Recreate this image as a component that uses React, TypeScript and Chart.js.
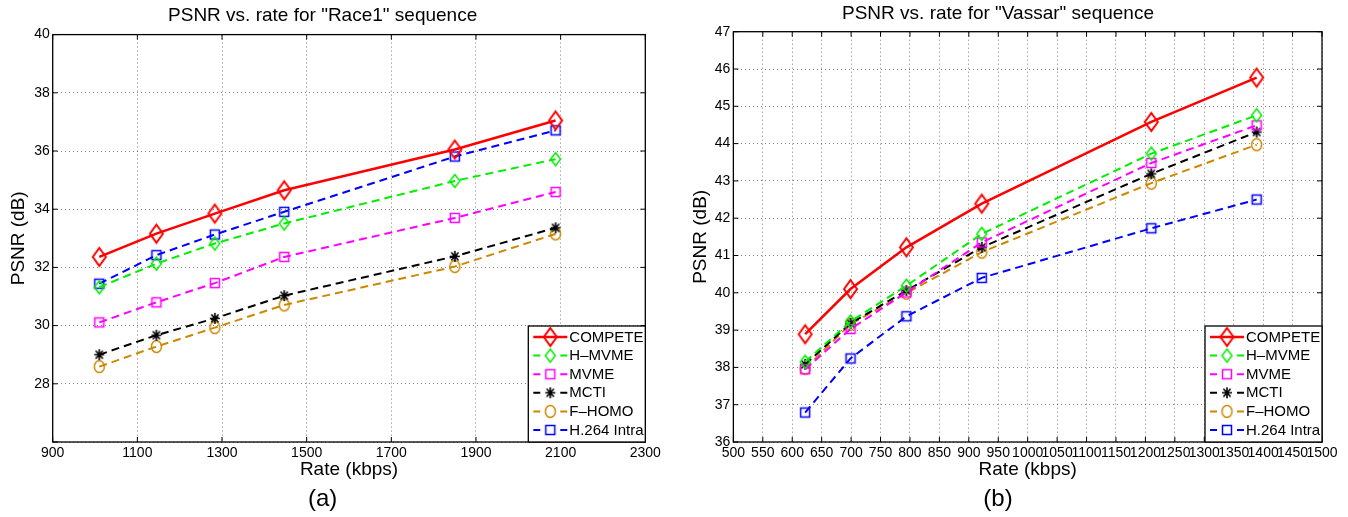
import React, { useEffect, useRef } from "react";
import { Chart, registerables } from "chart.js";

Chart.register(...registerables);
Chart.defaults.font.family = "'Liberation Sans', Arial, Helvetica, sans-serif";

// ---------- Data ----------
const SERIES_NAMES = ["COMPETE", "H\u2013MVME", "MVME", "MCTI", "F\u2013HOMO", "H.264 Intra"];

const RACE1_RATES = [1010, 1145, 1283, 1447, 1850, 2088];
const RACE1_COMPETE = [32.36, 33.16, 33.85, 34.65, 36.05, 37.05];
const RACE1_HMVME = [31.32, 32.13, 32.82, 33.51, 34.97, 35.72];
const RACE1_MVME = [30.11, 30.8, 31.46, 32.36, 33.7, 34.59];
const RACE1_MCTI = [29.0, 29.67, 30.25, 31.03, 32.38, 33.36];
const RACE1_FHOMO = [28.59, 29.28, 29.93, 30.71, 32.03, 33.15];
const RACE1_H264 = [31.44, 32.42, 33.13, 33.91, 35.81, 36.71];

const VASSAR_RATES = [622, 699, 794, 922, 1210, 1389];
const VASSAR_COMPETE = [38.89, 40.1, 41.22, 42.39, 44.58, 45.77];
const VASSAR_HMVME = [38.15, 39.23, 40.19, 41.58, 43.73, 44.76];
const VASSAR_MVME = [37.95, 39.03, 40.01, 41.35, 43.48, 44.49];
const VASSAR_MCTI = [38.08, 39.18, 40.06, 41.22, 43.19, 44.31];
const VASSAR_FHOMO = [37.97, 39.16, 39.99, 41.09, 42.94, 43.97];
const VASSAR_H264 = [36.79, 38.24, 39.37, 40.4, 41.73, 42.5];

const RACE1_X_TICKS = { min: 900, max: 2300, step: 200 };
const RACE1_Y_TICKS = { min: 26, max: 40, step: 2, hidden: [26] };
const VASSAR_X_TICKS = { min: 500, max: 1500, step: 50 };
const VASSAR_Y_TICKS = { min: 36, max: 47, step: 1, hidden: [] as number[] };

// ---------- Styles ----------
const COLORS = ["#ff0000", "#00ee00", "#ff00ff", "#000000", "#cc8800", "#0000ff"];
const DASHED = [false, true, true, true, true, true];
const WIDTHS = [2.5, 2, 2, 2, 2, 2];
const MARKERS = [
  { kind: "diamond", w: 13, h: 18, lw: 2 },
  { kind: "diamond", w: 10, h: 13, lw: 1.5 },
  { kind: "square", w: 9, h: 9, lw: 1.5 },
  { kind: "star", w: 10, h: 11, lw: 1.6 },
  { kind: "circle", w: 10, h: 12, lw: 1.5 },
  { kind: "square", w: 9, h: 9, lw: 1.5 },
];

function makeMarker(kind: string, color: string, w: number, h: number, lw: number) {
  const c = document.createElement("canvas");
  c.width = Math.ceil(w + lw * 2 + 2);
  c.height = Math.ceil(h + lw * 2 + 2);
  const ctx = c.getContext("2d")!;
  ctx.translate(c.width / 2, c.height / 2);
  ctx.strokeStyle = color;
  ctx.lineWidth = lw;
  ctx.beginPath();
  if (kind === "diamond") {
    ctx.moveTo(0, -h / 2);
    ctx.lineTo(w / 2, 0);
    ctx.lineTo(0, h / 2);
    ctx.lineTo(-w / 2, 0);
    ctx.closePath();
  } else if (kind === "square") {
    ctx.rect(-w / 2, -h / 2, w, h);
  } else if (kind === "circle") {
    ctx.ellipse(0, 0, w / 2, h / 2, 0, 0, Math.PI * 2);
  } else {
    ctx.moveTo(0, -h / 2);
    ctx.lineTo(0, h / 2);
    ctx.moveTo(-w / 2, 0);
    ctx.lineTo(w / 2, 0);
    const dx = (w / 2) * 0.72;
    const dy = (h / 2) * 0.72;
    ctx.moveTo(-dx, -dy);
    ctx.lineTo(dx, dy);
    ctx.moveTo(dx, -dy);
    ctx.lineTo(-dx, dy);
  }
  ctx.stroke();
  return c;
}

const DASH = [8, 5];

const framePlugin = {
  id: "matlabFrame",
  afterDatasetsDraw(chart: any) {
    const { ctx, chartArea: a, scales } = chart;
    ctx.save();
    ctx.strokeStyle = "#000";
    ctx.lineWidth = 1;
    ctx.setLineDash([]);
    const L = 5;
    ctx.beginPath();
    for (const t of scales.x.ticks) {
      const px = scales.x.getPixelForValue(t.value);
      ctx.moveTo(px, a.bottom);
      ctx.lineTo(px, a.bottom - L);
      ctx.moveTo(px, a.top);
      ctx.lineTo(px, a.top + L);
    }
    for (const t of scales.y.ticks) {
      const py = scales.y.getPixelForValue(t.value);
      ctx.moveTo(a.left, py);
      ctx.lineTo(a.left + L, py);
      ctx.moveTo(a.right, py);
      ctx.lineTo(a.right - L, py);
    }
    ctx.stroke();
    ctx.lineWidth = 1.3;
    ctx.strokeRect(a.left, a.top, a.right - a.left, a.bottom - a.top);
    ctx.restore();
  },
};

const legendPlugin = {
  id: "matlabLegend",
  afterDraw(chart: any) {
    const { ctx, chartArea: a } = chart;
    const w = 117;
    const h = 116;
    const x0 = a.right - w;
    const y0 = a.bottom - h;
    ctx.save();
    ctx.fillStyle = "#fff";
    ctx.fillRect(x0, y0, w, h);
    ctx.strokeStyle = "#000";
    ctx.lineWidth = 1.3;
    ctx.setLineDash([]);
    ctx.strokeRect(x0, y0, w, h);
    ctx.font = "15px 'Liberation Sans', Arial, sans-serif";
    ctx.textBaseline = "middle";
    ctx.textAlign = "left";
    chart.data.datasets.forEach((ds: any, i: number) => {
      const cy = y0 + 11 + i * 18.6;
      const lx = x0 + 5;
      ctx.strokeStyle = ds.borderColor;
      ctx.lineWidth = ds.borderWidth;
      ctx.setLineDash(ds.borderDash && ds.borderDash.length ? [7, 20] : []);
      ctx.beginPath();
      ctx.moveTo(lx, cy);
      ctx.lineTo(lx + 34, cy);
      ctx.stroke();
      ctx.setLineDash([]);
      const m = ds.pointStyle as HTMLCanvasElement;
      ctx.drawImage(m, lx + 17 - m.width / 2, cy - m.height / 2);
      ctx.fillStyle = "#000";
      ctx.fillText(ds.label, x0 + 41, cy + 0.5);
    });
    ctx.restore();
  },
};

type Cfg = {
  title: string;
  sub: string;
  rates: number[];
  values: number[][];
  xt: { min: number; max: number; step: number };
  yt: { min: number; max: number; step: number; hidden: number[] };
  padRight: number;
  titlePad: { top: number; bottom: number };
  yTitlePad: { top: number; bottom: number };
};

function buildConfig(c: Cfg): any {
  const datasets = SERIES_NAMES.map((name, i) => {
    const mk = MARKERS[i];
    return {
      label: name,
      data: c.rates.map((x, j) => ({ x, y: c.values[i][j] })),
      borderColor: COLORS[i],
      borderWidth: WIDTHS[i],
      borderDash: DASHED[i] ? DASH : [],
      pointStyle: makeMarker(mk.kind, COLORS[i], mk.w, mk.h, mk.lw),
      pointRadius: 6,
      tension: 0,
      fill: false,
    };
  });
  const tickFont = { size: 14 };
  const gridColor = "rgba(0,0,0,0.5)";
  return {
    type: "line",
    data: { datasets },
    options: {
      animation: false,
      responsive: false,
      events: [],
      layout: { padding: { left: 0, right: c.padRight, top: 0, bottom: 0 } },
      plugins: {
        legend: { display: false },
        tooltip: { enabled: false },
        title: {
          display: true,
          text: c.title,
          color: "#000",
          font: { size: 19, weight: "normal" },
          padding: c.titlePad,
        },
        subtitle: {
          display: true,
          position: "bottom",
          text: c.sub,
          color: "#000",
          font: { size: 24, weight: "normal" },
          padding: { top: 0, bottom: 3.3 },
        },
      },
      scales: {
        x: {
          type: "linear",
          min: c.xt.min,
          max: c.xt.max,
          ticks: {
            stepSize: c.xt.step,
            autoSkip: false,
            maxRotation: 0,
            minRotation: 0,
            color: "#000",
            font: tickFont,
            padding: 3,
            callback: (v: number) => String(v),
          },
          grid: { color: gridColor, lineWidth: 1, drawTicks: false },
          border: { display: false, dash: [1, 3] },
          title: {
            display: true,
            text: "Rate (kbps)",
            color: "#000",
            font: { size: 19 },
            padding: { top: -6, bottom: 3.3 },
          },
        },
        y: {
          type: "linear",
          min: c.yt.min,
          max: c.yt.max,
          ticks: {
            stepSize: c.yt.step,
            color: "#000",
            font: tickFont,
            padding: 3,
            callback: (v: number) => (c.yt.hidden.includes(v) ? "" : String(v)),
          },
          grid: { color: gridColor, lineWidth: 1, drawTicks: false },
          border: { display: false, dash: [1, 3] },
          title: {
            display: true,
            text: "PSNR (dB)",
            color: "#000",
            font: { size: 19 },
            padding: c.yTitlePad,
          },
        },
      },
    },
    plugins: [framePlugin, legendPlugin],
  };
}

function PlotCanvas({ cfg, left }: { cfg: Cfg; left: number }) {
  const ref = useRef<HTMLCanvasElement | null>(null);
  useEffect(() => {
    if (!ref.current) return;
    const chart = new Chart(ref.current, buildConfig(cfg));
    return () => chart.destroy();
  }, []);
  return (
    <canvas
      ref={ref}
      width={674}
      height={517}
      style={{ position: "absolute", left, top: 0, width: 674, height: 517 }}
    />
  );
}

const RACE1_CFG: Cfg = {
  title: 'PSNR vs. rate for "Race1" sequence',
  sub: "(a)",
  rates: RACE1_RATES,
  values: [RACE1_COMPETE, RACE1_HMVME, RACE1_MVME, RACE1_MCTI, RACE1_FHOMO, RACE1_H264],
  xt: RACE1_X_TICKS,
  yt: RACE1_Y_TICKS,
  padRight: 28.7,
  titlePad: { top: 4.6, bottom: 7.2 },
  yTitlePad: { top: 7.6, bottom: 0.73 },
};

const VASSAR_CFG: Cfg = {
  title: 'PSNR vs. rate for "Vassar" sequence',
  sub: "(b)",
  rates: VASSAR_RATES,
  values: [VASSAR_COMPETE, VASSAR_HMVME, VASSAR_MVME, VASSAR_MCTI, VASSAR_FHOMO, VASSAR_H264],
  xt: VASSAR_X_TICKS,
  yt: VASSAR_Y_TICKS,
  padRight: 26,
  titlePad: { top: 2.3, bottom: 6.6 },
  yTitlePad: { top: 15, bottom: 0 },
};

export default function App() {
  return (
    <div
      style={{
        position: "absolute",
        left: 0,
        top: 0,
        width: 1348,
        height: 517,
        background: "#fff",
        overflow: "hidden",
      }}
    >
      <PlotCanvas cfg={RACE1_CFG} left={0} />
      <PlotCanvas cfg={VASSAR_CFG} left={674} />
    </div>
  );
}
